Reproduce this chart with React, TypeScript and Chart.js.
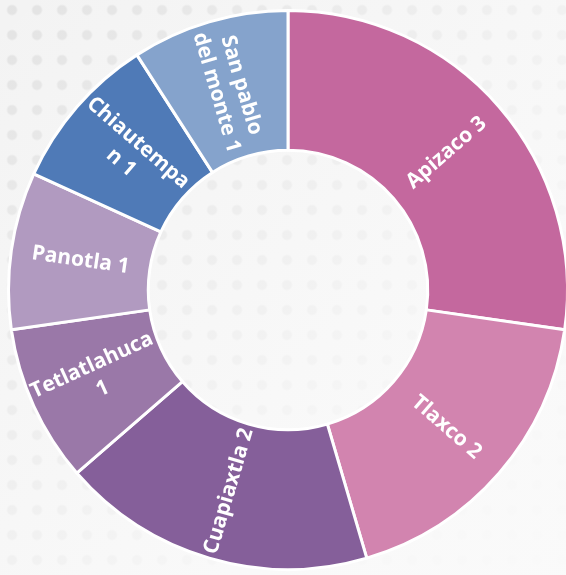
import React, { useEffect, useRef } from "react";
import { Chart, registerables } from "chart.js";

Chart.register(...registerables);

const categories = ["Apizaco 3", "Tlaxco 2", "Cuapiaxtla 2", "Tetlatlahuca 1", "Panotla 1", "Chiautempa n 1", "San pablo del monte 1"];
const labelLines = [["Apizaco 3"], ["Tlaxco 2"], ["Cuapiaxtla 2"], ["Tetlatlahuca", "1"], ["Panotla 1"], ["Chiautempa", "n 1"], ["San pablo", "del monte 1"]];
const values = [3, 2, 2, 1, 1, 1, 1];
const colors = ["#C4689E", "#D284AF", "#855F9A", "#9A78A8", "#B19AC0", "#4F7AB7", "#85A3CC"];

const labelPlugin = {
  id: "sliceLabels",
  afterDatasetsDraw(chart: any) {
    const ctx = chart.ctx;
    const meta = chart.getDatasetMeta(0);
    ctx.save();
    ctx.fillStyle = "#FFFFFF";
    ctx.font = "bold 21px 'Open Sans'";
    ctx.textAlign = "center";
    ctx.textBaseline = "middle";
    meta.data.forEach((arc: any, i: number) => {
      const p = arc.getProps(["x", "y", "startAngle", "endAngle", "innerRadius", "outerRadius"], true);
      const mid = (p.startAngle + p.endAngle) / 2;
      const r = (p.innerRadius + p.outerRadius) / 2;
      const cx = p.x + Math.cos(mid) * r;
      const cy = p.y + Math.sin(mid) * r;
      let rot = mid;
      if (Math.cos(mid) < -1e-6) rot = mid - Math.PI;
      ctx.save();
      ctx.translate(cx, cy);
      ctx.rotate(rot);
      const lines = labelLines[i];
      const lh = 26;
      lines.forEach((t: string, j: number) => {
        ctx.fillText(t, 0, (j - (lines.length - 1) / 2) * lh);
      });
      ctx.restore();
    });
    ctx.restore();
  },
};

export default function App() {
  const ref = useRef<HTMLCanvasElement>(null);
  useEffect(() => {
    if (!ref.current) return;
    const chart = new Chart(ref.current, {
      type: "doughnut",
      data: {
        labels: categories,
        datasets: [
          {
            data: values,
            backgroundColor: colors,
            borderColor: "#FFFFFF",
            borderWidth: 3,
          },
        ],
      },
      options: {
        responsive: false,
        animation: false,
        cutout: "50%",
        layout: { padding: 7 },
        plugins: { legend: { display: false }, tooltip: { enabled: false } },
      },
      plugins: [labelPlugin],
    });
    return () => chart.destroy();
  }, []);

  return (
    <div
      style={{
        position: "fixed",
        left: 0,
        top: 0,
        width: 566,
        height: 575,
        overflow: "hidden",
        background:
          "linear-gradient(135deg, rgba(250,250,250,0) 0%, rgba(250,250,250,0.85) 70%, rgba(250,250,250,0.97) 100%), radial-gradient(circle, #E3E3E3 4.5px, rgba(227,227,227,0) 5.5px) -0.5px -2.5px / 25px 25px, #F3F3F3",
      }}
    >
      <canvas ref={ref} width={576} height={580} style={{ position: "absolute", left: 0, top: 0 }} />
    </div>
  );
}
